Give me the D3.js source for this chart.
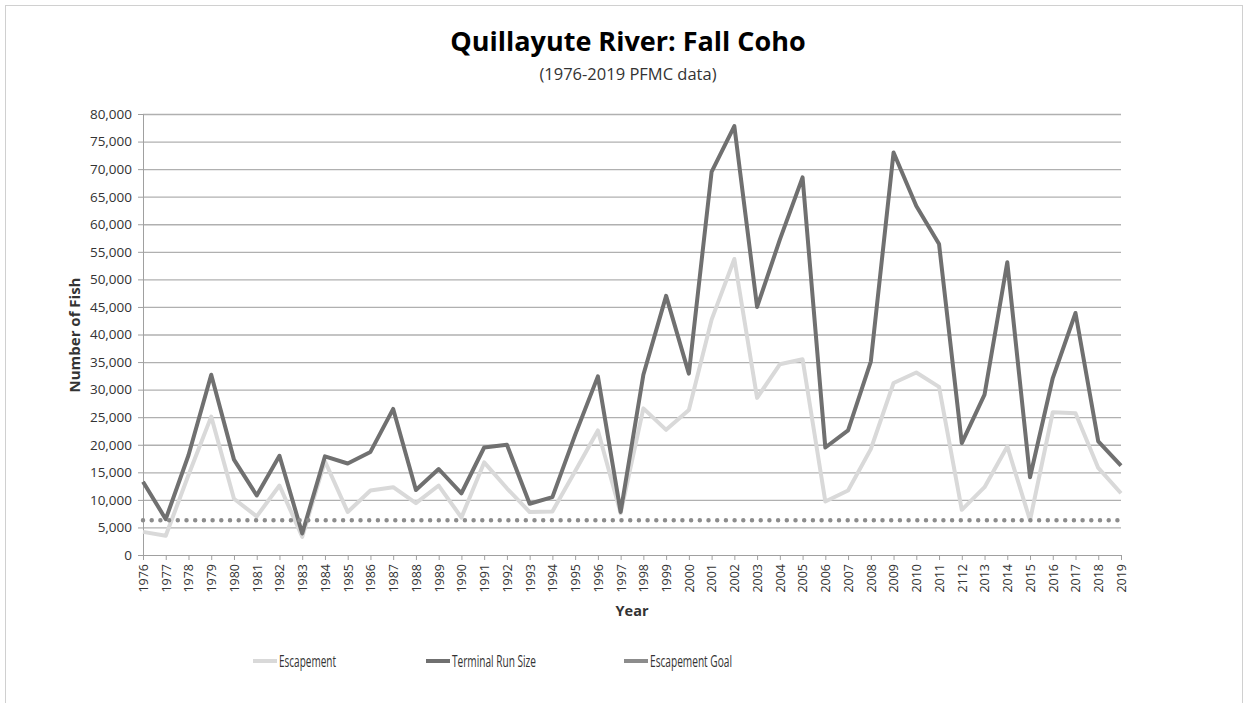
<!DOCTYPE html>
<html>
<head>
<meta charset="utf-8">
<style>
  body { margin: 0; background: #fff; }
  text { font-family: "Open Sans", sans-serif; fill: #333; }
  .title { font-weight: bold; fill: #000; }
  .grid line { stroke: #b0b0b0; stroke-width: 1.3; }
  .grid path { display: none; }
</style>
</head>
<body>
<svg id="chart" width="1248" height="703"></svg>
<script src="https://cdn.jsdelivr.net/npm/d3@7"></script>
<script>
var years = ["1976","1977","1978","1979","1980","1981","1982","1983","1984","1985","1986","1987","1988","1989","1990",
  "1991","1992","1993","1994","1995","1996","1997","1998","1999","2000","2001","2002","2003","2004","2005","2006",
  "2007","2008","2009","2010","2011","2112","2013","2014","2015","2016","2017","2018","2019"];

var escapement = [4200,3500,14500,25100,10200,7000,12600,3300,17000,7800,11700,12300,9400,12600,6800,
  16800,12100,7800,7900,15200,22600,7600,26600,22700,26300,42700,53700,28500,34600,35500,9700,
  11700,19200,31200,33100,30500,8200,12300,19700,6300,25900,25700,15800,11200];

var terminalRun = [13300,6500,18100,32700,17300,10800,18000,3900,17900,16600,18700,26500,11800,15600,11200,
  19500,20000,9300,10500,21800,32400,7800,32700,47000,32900,69500,77800,45000,57200,68500,19500,
  22600,35100,73000,63300,56400,20300,29100,53100,14100,32100,43900,20600,16200];

var escapementGoal = years.map(function() { return 6300; });

var yTicks = d3.range(0, 80001, 5000);

var svg = d3.select("#chart");

// outer frame
svg.append("rect")
  .attr("x", 5.5).attr("y", 5.5)
  .attr("width", 1237).attr("height", 720)
  .attr("fill", "none").attr("stroke", "#d0d0d0");

var plot = {left: 143, right: 1121, top: 114, bottom: 555};

var x = d3.scalePoint().domain(years).range([plot.left, plot.right]);
var y = d3.scaleLinear().domain([0, 80000]).range([plot.bottom, plot.top]);

// horizontal gridlines
svg.append("g")
  .attr("class", "grid")
  .attr("transform", "translate(" + plot.left + ",0)")
  .call(d3.axisLeft(y).tickValues(yTicks.slice(1)).tickSize(-(plot.right - plot.left)).tickFormat(""));

// y axis
var yAxis = svg.append("g")
  .attr("transform", "translate(" + plot.left + ",0)")
  .call(d3.axisLeft(y).tickValues(yTicks).tickSize(5).tickPadding(6).tickFormat(d3.format(",")));
yAxis.select(".domain").attr("stroke", "#a0a0a0");
yAxis.selectAll(".tick line").attr("stroke", "#a0a0a0");
yAxis.selectAll("text").style("font-size", "13.5px").attr("fill", "#222");

// x axis
var xAxis = svg.append("g")
  .attr("transform", "translate(0," + plot.bottom + ")")
  .call(d3.axisBottom(x).tickSize(5).tickSizeOuter(0));
xAxis.select(".domain").attr("stroke", "#a0a0a0");
xAxis.selectAll(".tick line").attr("stroke", "#a0a0a0");
xAxis.selectAll("text")
  .style("font-size", "12.5px")
  .attr("fill", "#222")
  .attr("text-anchor", "end")
  .attr("dy", "0.35em")
  .attr("transform", "translate(0,3) rotate(-90)")
  .attr("x", -6).attr("y", 0);

var line = d3.line()
  .x(function(d, i) { return x(years[i]); })
  .y(function(d) { return y(d); });

svg.append("path")
  .datum(escapement)
  .attr("fill", "none")
  .attr("stroke", "#d9d9d9")
  .attr("stroke-width", 4)
  .attr("stroke-linejoin", "round")
  .attr("d", line);

svg.append("path")
  .datum(terminalRun)
  .attr("fill", "none")
  .attr("stroke", "#707070")
  .attr("stroke-width", 4)
  .attr("stroke-linejoin", "round")
  .attr("d", line);

svg.append("path")
  .datum(escapementGoal)
  .attr("fill", "none")
  .attr("stroke", "#8c8c8c")
  .attr("stroke-width", 4.5)
  .attr("stroke-linecap", "round")
  .attr("stroke-dasharray", "0 8.7")
  .attr("d", line);

// titles
svg.append("text").attr("class", "title")
  .attr("x", 628).attr("y", 51)
  .attr("text-anchor", "middle")
  .style("font-size", "27px")
  .text("Quillayute River: Fall Coho");

svg.append("text")
  .attr("x", 628).attr("y", 80)
  .attr("text-anchor", "middle")
  .style("font-size", "16.5px")
  .attr("fill", "#111")
  .text("(1976-2019 PFMC data)");

svg.append("text")
  .attr("transform", "translate(80,335) rotate(-90)")
  .attr("text-anchor", "middle")
  .style("font-weight", "bold")
  .style("font-size", "15px")
  .attr("fill", "#111")
  .text("Number of Fish");

svg.append("text")
  .attr("x", 632).attr("y", 616)
  .attr("text-anchor", "middle")
  .style("font-weight", "bold")
  .style("font-size", "14.5px")
  .attr("fill", "#111")
  .text("Year");

// legend
var legendItems = [
  {name: "Escapement", color: "#d9d9d9", x: 253, w: 57},
  {name: "Terminal Run Size", color: "#707070", x: 426, w: 84},
  {name: "Escapement Goal", color: "#8c8c8c", x: 624, w: 82}
];
var legend = svg.selectAll(".legend").data(legendItems).enter().append("g")
  .attr("transform", function(d) { return "translate(" + d.x + ",661)"; });
legend.append("line")
  .attr("x1", 0).attr("x2", 24)
  .attr("stroke", function(d) { return d.color; })
  .attr("stroke-width", 4);
legend.append("text")
  .attr("x", 26).attr("dy", "0.35em")
  .style("font-size", "16.5px")
  .attr("textLength", function(d) { return d.w; })
  .attr("lengthAdjust", "spacingAndGlyphs")
  .attr("fill", "#222")
  .text(function(d) { return d.name; });
</script>
</body>
</html>
